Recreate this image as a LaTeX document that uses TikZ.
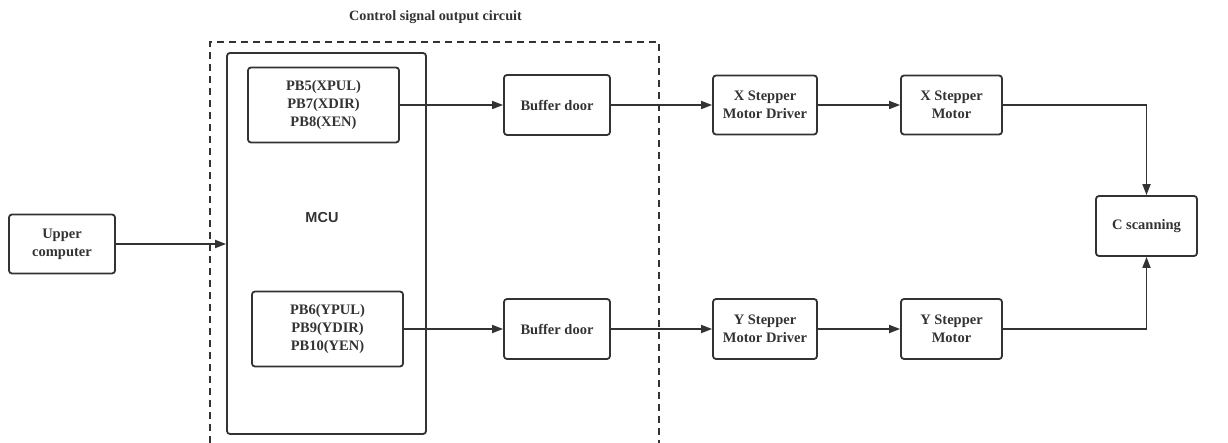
\documentclass[tikz,border=0pt]{standalone}
\usepackage{fontspec}
\setmainfont{Liberation Serif}[BoldFont={* Bold}]
\setsansfont{Liberation Sans}
\newfontfamily\tnrb{Liberation Serif Bold}
\usetikzlibrary{arrows.meta}
\definecolor{ink}{HTML}{333333}
\tikzset{
  blk/.style={draw=ink, line width=1.8pt, rounded corners=3pt, align=center,
    inner sep=0pt, text=ink, font=\tnrb\fontsize{14.5}{18}\selectfont},
  conn/.style={draw=ink, line width=1.7pt, -{Triangle[length=11pt,width=8pt]}},
  frame/.style={draw=ink, line width=1.7pt, dash pattern=on 7pt off 5pt},
}
\begin{document}
\begin{tikzpicture}[x=1pt,y=-1pt]
\useasboundingbox (0,0) rectangle (1228,443);
% title
\node[text=ink, font=\tnrb\fontsize{14.2}{16}\selectfont] (title) at (435.5,17) {Control signal output circuit};
% dashed frame
\draw[frame] (210,443) -- (210,42) -- (659,42) -- (659,443);
% MCU
\node[blk, minimum width=199pt, minimum height=381pt] (mcu) at (326.5,243.5) {};
\node[text=ink, font=\sffamily\bfseries\fontsize{14.5}{16}\selectfont] (mculbl) at (322,218) {MCU};
\node[blk, minimum width=151pt, minimum height=75pt] (pbx) at (323.5,105) {PB5(XPUL)\\PB7(XDIR)\\PB8(XEN)};
\node[blk, minimum width=151pt, minimum height=75pt] (pby) at (327.5,329) {PB6(YPUL)\\PB9(YDIR)\\PB10(YEN)};
% buffers
\node[blk, minimum width=106pt, minimum height=60pt] (bufx) at (557,105) {Buffer door};
\node[blk, minimum width=106pt, minimum height=60pt] (bufy) at (557,329) {Buffer door};
% upper computer
\node[blk, minimum width=106pt, minimum height=59pt] (upper) at (62,244) {Upper\\computer};
% drivers
\node[blk, minimum width=104pt, minimum height=59pt] (drvx) at (765,105) {X Stepper\\Motor Driver};
\node[blk, minimum width=104pt, minimum height=60pt] (drvy) at (765,329) {Y Stepper\\Motor Driver};
% motors
\node[blk, minimum width=101pt, minimum height=59pt] (motx) at (951.5,105) {X Stepper\\Motor};
\node[blk, minimum width=101pt, minimum height=60pt] (moty) at (951.5,329) {Y Stepper\\Motor};
% C scanning
\node[blk, minimum width=101pt, minimum height=60pt] (cscan) at (1146.5,226) {C scanning};
% connectors
\draw[conn] (upper.east) -- (mcu.west |- upper.east);
\draw[conn] (pbx.east) -- (bufx.west);
\draw[conn] (pby.east) -- (bufy.west);
\draw[conn] (bufx.east) -- (drvx.west);
\draw[conn] (bufy.east) -- (drvy.west);
\draw[conn] (drvx.east) -- (motx.west);
\draw[conn] (drvy.east) -- (moty.west);
\draw[conn] (motx.east) -| (cscan.north);
\draw[conn] (moty.east) -| (cscan.south);
\end{tikzpicture}
\end{document}
